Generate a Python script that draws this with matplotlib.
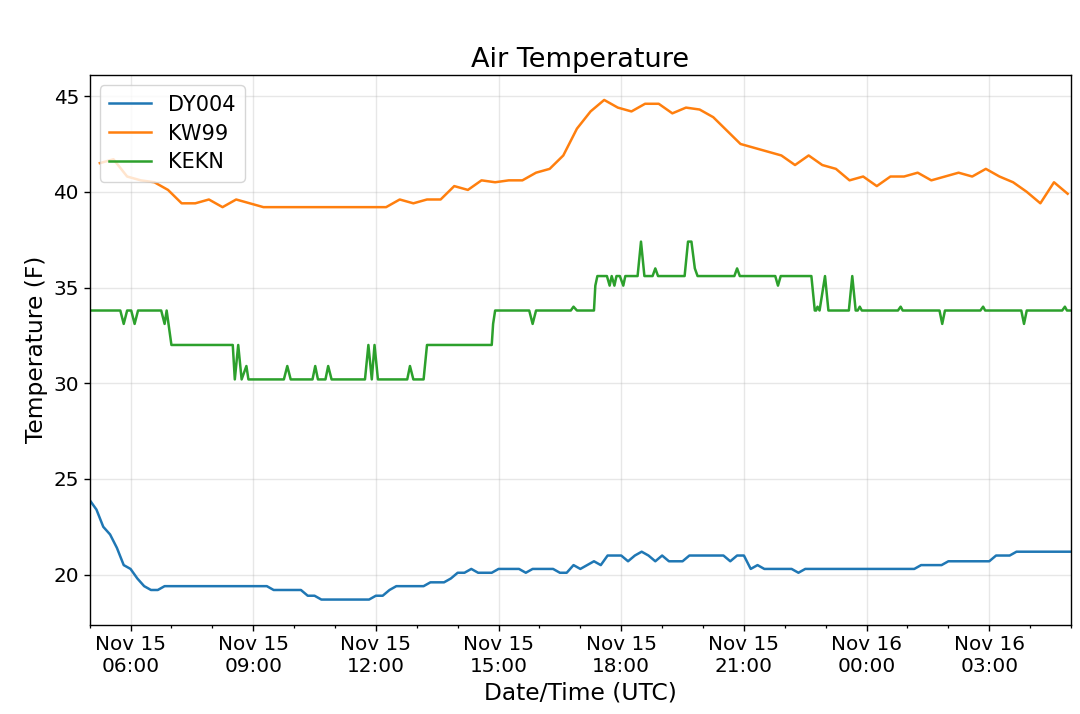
import matplotlib
matplotlib.use("Agg")
import matplotlib.pyplot as plt
import matplotlib.dates as mdates
import pandas as pd

# DY004, 10 minute obs starting Nov 15 05:00
dy004_temp = [
    23.9, 23.4, 22.5, 22.1, 21.4, 20.5, 20.3, 19.8, 19.4, 19.2, 19.2, 19.4,
    19.4, 19.4, 19.4, 19.4, 19.4, 19.4, 19.4, 19.4, 19.4, 19.4, 19.4, 19.4,
    19.4, 19.4, 19.4, 19.2, 19.2, 19.2, 19.2, 19.2, 18.9, 18.9, 18.7, 18.7,
    18.7, 18.7, 18.7, 18.7, 18.7, 18.7, 18.9, 18.9, 19.2, 19.4, 19.4, 19.4,
    19.4, 19.4, 19.6, 19.6, 19.6, 19.8, 20.1, 20.1, 20.3, 20.1, 20.1, 20.1,
    20.3, 20.3, 20.3, 20.3, 20.1, 20.3, 20.3, 20.3, 20.3, 20.1, 20.1, 20.5,
    20.3, 20.5, 20.7, 20.5, 21.0, 21.0, 21.0, 20.7, 21.0, 21.2, 21.0, 20.7,
    21.0, 20.7, 20.7, 20.7, 21.0, 21.0, 21.0, 21.0, 21.0, 21.0, 20.7, 21.0,
    21.0, 20.3, 20.5, 20.3, 20.3, 20.3, 20.3, 20.3, 20.1, 20.3, 20.3, 20.3,
    20.3, 20.3, 20.3, 20.3, 20.3, 20.3, 20.3, 20.3, 20.3, 20.3, 20.3, 20.3,
    20.3, 20.3, 20.5, 20.5, 20.5, 20.5, 20.7, 20.7, 20.7, 20.7, 20.7, 20.7,
    20.7, 21.0, 21.0, 21.0, 21.2, 21.2, 21.2, 21.2, 21.2, 21.2, 21.2, 21.2,
    21.2,
]

# KW99, 20 minute obs starting Nov 15 05:15
kw99_temp = [
    41.5, 41.7, 40.8, 40.6, 40.5, 40.1, 39.4, 39.4, 39.6, 39.2, 39.6, 39.4,
    39.2, 39.2, 39.2, 39.2, 39.2, 39.2, 39.2, 39.2, 39.2, 39.2, 39.6, 39.4,
    39.6, 39.6, 40.3, 40.1, 40.6, 40.5, 40.6, 40.6, 41.0, 41.2, 41.9, 43.3,
    44.2, 44.8, 44.4, 44.2, 44.6, 44.6, 44.1, 44.4, 44.3, 43.9, 43.2, 42.5,
    42.3, 42.1, 41.9, 41.4, 41.9, 41.4, 41.2, 40.6, 40.8, 40.3, 40.8, 40.8,
    41.0, 40.6, 40.8, 41.0, 40.8, 41.2, 40.8, 40.5, 40.0, 39.4, 40.5, 39.9,
]

# KEKN, irregular obs ("day HH:MM", Nov)
kekn_time = [
    "15 05:00", "15 05:45", "15 05:50", "15 05:55", "15 06:01", "15 06:06",
    "15 06:11", "15 06:45", "15 06:50", "15 06:53", "15 07:00", "15 08:30",
    "15 08:33", "15 08:38", "15 08:43", "15 08:50", "15 08:53", "15 09:45",
    "15 09:50", "15 09:55", "15 10:27", "15 10:31", "15 10:35", "15 10:46",
    "15 10:50", "15 10:55", "15 11:44", "15 11:49", "15 11:54", "15 11:58",
    "15 12:03", "15 12:46", "15 12:50", "15 12:55", "15 13:10", "15 13:15",
    "15 14:50", "15 14:52", "15 14:55", "15 15:45", "15 15:50", "15 15:55",
    "15 16:46", "15 16:50", "15 16:55", "15 17:20", "15 17:22", "15 17:25",
    "15 17:39", "15 17:43", "15 17:46", "15 17:50", "15 17:53", "15 17:58",
    "15 18:03", "15 18:06", "15 18:24", "15 18:29", "15 18:34", "15 18:46",
    "15 18:50", "15 18:54", "15 19:33", "15 19:38", "15 19:43", "15 19:48",
    "15 19:52", "15 20:46", "15 20:50", "15 20:54", "15 21:46", "15 21:50",
    "15 21:54", "15 22:39", "15 22:44", "15 22:46", "15 22:48", "15 22:51",
    "15 22:59", "15 23:04", "15 23:34", "15 23:39", "15 23:44", "15 23:47",
    "15 23:50", "15 23:53", "16 00:46", "16 00:50", "16 00:53", "16 01:47",
    "16 01:51", "16 01:55", "16 02:47", "16 02:51", "16 02:54", "16 03:47",
    "16 03:51", "16 03:55", "16 04:47", "16 04:51", "16 04:54", "16 05:00",
]
kekn_temp = [
    33.8, 33.8, 33.1, 33.8, 33.8, 33.1,
    33.8, 33.8, 33.1, 33.8, 32.0, 32.0,
    30.2, 32.0, 30.2, 30.9, 30.2, 30.2,
    30.9, 30.2, 30.2, 30.9, 30.2, 30.2,
    30.9, 30.2, 30.2, 32.0, 30.2, 32.0,
    30.2, 30.2, 30.9, 30.2, 30.2, 32.0,
    32.0, 33.1, 33.8, 33.8, 33.1, 33.8,
    33.8, 34.0, 33.8, 33.8, 35.1, 35.6,
    35.6, 35.1, 35.6, 35.1, 35.6, 35.6,
    35.1, 35.6, 35.6, 37.4, 35.6, 35.6,
    36.0, 35.6, 35.6, 37.4, 37.4, 36.0,
    35.6, 35.6, 36.0, 35.6, 35.6, 35.1,
    35.6, 35.6, 33.8, 33.8, 34.0, 33.8,
    35.6, 33.8, 33.8, 35.6, 33.8, 33.8,
    34.0, 33.8, 33.8, 34.0, 33.8, 33.8,
    33.1, 33.8, 33.8, 34.0, 33.8, 33.8,
    33.1, 33.8, 33.8, 34.0, 33.8, 33.8,
]

dy004_dt = pd.date_range("2018-11-15 05:00", periods=len(dy004_temp), freq="10min")
kw99_dt = pd.date_range("2018-11-15 05:15", periods=len(kw99_temp), freq="20min")
kekn_dt = pd.to_datetime(["2018-11-" + s for s in kekn_time], format="%Y-%m-%d %H:%M")

fig = plt.figure(figsize=(10.8, 7.14), dpi=100)
ax = fig.add_axes([0.083, 0.1253, 0.9087, 0.7697])

ax.plot(dy004_dt, dy004_temp, label="DY004", linewidth=1.8)
ax.plot(kw99_dt, kw99_temp, label="KW99", linewidth=1.8)
ax.plot(kekn_dt, kekn_temp, label="KEKN", linewidth=1.8)

ax.set_xlim(dy004_dt[0], dy004_dt[-1])

ax.xaxis.set_major_locator(mdates.HourLocator(byhour=range(0, 24, 3)))
ax.xaxis.set_minor_locator(mdates.HourLocator())
ax.xaxis.set_major_formatter(mdates.DateFormatter("%b %d\n%H:%M"))
for lbl in ax.get_xticklabels():
    lbl.set_horizontalalignment("center")

ax.tick_params(axis="both", which="major", labelsize=14.4, length=4.2, width=1)
ax.tick_params(axis="x", which="minor", length=2.4, width=0.9)
for sp in ax.spines.values():
    sp.set_linewidth(1)

ax.grid(True, which="major", color="#b0b0b0", alpha=0.3, linewidth=1)

ax.set_title("Air Temperature", fontsize=19.5, pad=6)
ax.set_xlabel("Date/Time (UTC)", fontsize=16.8)
ax.set_ylabel("Temperature (F)", fontsize=16.8)
ax.legend(loc="upper left", fontsize=15, labelspacing=0.42, borderpad=0.45)

fig.savefig("out.png", dpi=100)
